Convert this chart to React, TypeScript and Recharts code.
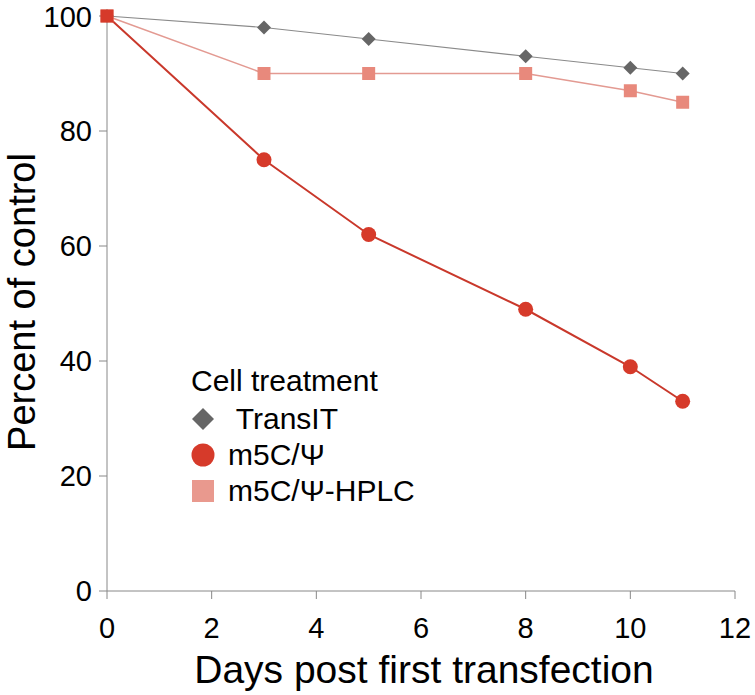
import React from 'react';
import { LineChart, Line, XAxis, YAxis, Label } from 'recharts';

const days = [0, 3, 5, 8, 10, 11];
const transit = [100, 98, 96, 93, 91, 90];
const m5c = [100, 75, 62, 49, 39, 33];
const hplc = [100, 90, 90, 90, 87, 85];
const xTicks = [0, 2, 4, 6, 8, 10, 12];
const yTicks = [0, 20, 40, 60, 80, 100];

const FONT = '"Liberation Sans", Arial, Helvetica, sans-serif';
const GREY = '#666666';
const RED = '#d63a2a';
const PINK = '#e8897c';

const data = days.map((d, i) => ({ day: d, transit: transit[i], m5c: m5c[i], hplc: hplc[i] }));

const Diamond = (props: any) => {
  const { cx, cy, index } = props;
  const s = 7;
  return <path key={`d-${index}`} d={`M${cx},${cy - s}L${cx + s},${cy}L${cx},${cy + s}L${cx - s},${cy}Z`} fill={GREY} />;
};

const Square = (props: any) => {
  const { cx, cy, index } = props;
  return <rect key={`s-${index}`} x={cx - 6.5} y={cy - 6.5} width={13} height={13} fill={PINK} />;
};

// first point of the red series shows as a square on top of the others
const RedDot = (props: any) => {
  const { cx, cy, index } = props;
  if (index === 0) return <rect key={`r-${index}`} x={cx - 6.5} y={cy - 6.5} width={13} height={13} fill={RED} />;
  return <circle key={`r-${index}`} cx={cx} cy={cy} r={7.5} fill={RED} />;
};

const legendItems = [
  { name: ' TransIT', icon: <path d="M12,1L23,12L12,23L1,12Z" fill={GREY} /> },
  { name: 'm5C/\u03A8', icon: <circle cx={12} cy={12} r={11.5} fill={RED} /> },
  { name: 'm5C/\u03A8-HPLC', icon: <rect x={1} y={1} width={22} height={22} fill="#e9998e" /> },
];

const LegendBox = () => (
  <div style={{ position: 'absolute', left: 191, top: 361, fontFamily: FONT, fontSize: 30, color: '#000' }}>
    <div style={{ height: 40, lineHeight: '40px' }}>Cell treatment</div>
    {legendItems.map((it) => (
      <div key={it.name} style={{ height: 36, display: 'flex', alignItems: 'center' }}>
        <svg width={24} height={24} style={{ marginRight: 13 }}>{it.icon}</svg>
        <span style={{ whiteSpace: 'pre' }}>{it.name}</span>
      </div>
    ))}
  </div>
);

export default function App() {
  const tick = { fontFamily: FONT, fontSize: 29, fill: '#000' };
  return (
    <div style={{ position: 'absolute', left: 0, top: 0, width: 755, height: 695, background: '#fff' }}>
      <LineChart width={755} height={695} data={data} margin={{ top: 16, right: 20, bottom: 0, left: 0 }}>
        <XAxis
          dataKey="day"
          type="number"
          domain={[0, 12]}
          ticks={xTicks}
          height={104}
          tick={tick}
          tickSize={8}
          tickMargin={18}
          stroke="#888"
          tickLine={{ stroke: '#888' }}
        >
          <Label
            content={() => (
              <text x={424} y={683} textAnchor="middle" fontFamily={FONT} fontSize={39} fill="#000">
                Days post first transfection
              </text>
            )}
          />
        </XAxis>
        <YAxis
          type="number"
          domain={[0, 100]}
          ticks={yTicks}
          width={107}
          tick={tick}
          tickSize={8}
          tickMargin={7}
          stroke="#888"
          tickLine={{ stroke: '#888' }}
        >
          <Label
            content={() => (
              <text x={35} y={302} transform="rotate(-90 35 302)" textAnchor="middle" fontFamily={FONT} fontSize={38} fill="#000">
                Percent of control
              </text>
            )}
          />
        </YAxis>
        <Line dataKey="transit" stroke="#8a8a8a" strokeWidth={1.2} dot={<Diamond />} activeDot={false} isAnimationActive={false} />
        <Line dataKey="hplc" stroke="#e39a92" strokeWidth={1.5} dot={<Square />} activeDot={false} isAnimationActive={false} />
        <Line dataKey="m5c" stroke="#c9382b" strokeWidth={2} dot={<RedDot />} activeDot={false} isAnimationActive={false} />
      </LineChart>
      <LegendBox />
    </div>
  );
}
